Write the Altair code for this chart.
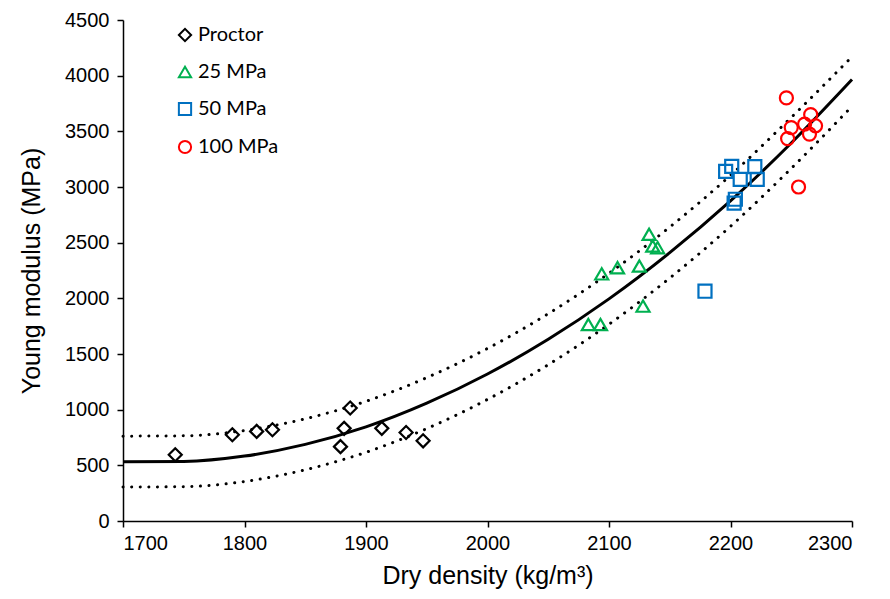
import altair as alt
import pandas as pd

# ---- data ----
proctor_x = [1743, 1790, 1810, 1823, 1887, 1882, 1879, 1913, 1933, 1947]
proctor_y = [595, 775, 805, 820, 1015, 832, 668, 832, 795, 720]
mpa25_x = [2083, 2093, 2094, 2107, 2125, 2128, 2133, 2136, 2140]
mpa25_y = [1765, 1765, 2220, 2275, 2290, 1930, 2575, 2470, 2455]
mpa50_x = [2179, 2196, 2201, 2203, 2204, 2208, 2220, 2222]
mpa50_y = [2064, 3140, 3185, 2855, 2890, 3069, 3183, 3069]
mpa100_x = [2246, 2247, 2250, 2256, 2261, 2265, 2266, 2270]
mpa100_y = [3800, 3435, 3534, 3000, 3565, 3475, 3650, 3550]

series_names = ["Proctor", "25 MPa", "50 MPa", "100 MPa"]
series_colors = ["#000000", "#00B050", "#0070C0", "#FF0000"]
series_shapes = ["diamond", "triangle-up", "square", "circle"]

curve_x = [1700, 1750, 1800, 1850, 1900, 1950, 2000, 2050, 2100, 2150, 2200, 2250, 2300]
fit_y = [532, 535, 583, 688, 845, 1058, 1320, 1632, 1995, 2410, 2875, 3395, 3965]
upper_y = [762, 765, 813, 918, 1075, 1288, 1550, 1862, 2225, 2640, 3105, 3625, 4170]
lower_y = [305, 308, 355, 460, 617, 830, 1092, 1404, 1767, 2182, 2647, 3167, 3725]

x_ticks = [1700, 1800, 1900, 2000, 2100, 2200, 2300]
y_ticks = [0, 500, 1000, 1500, 2000, 2500, 3000, 3500, 4000, 4500]

# ---- tables ----
rows = []
for name, xs, ys in zip(series_names,
                        [proctor_x, mpa25_x, mpa50_x, mpa100_x],
                        [proctor_y, mpa25_y, mpa50_y, mpa100_y]):
    for a, b in zip(xs, ys):
        rows.append({"density": a, "modulus": b, "series": name})
pts = pd.DataFrame(rows)

curves = pd.DataFrame({"density": curve_x, "fit": fit_y, "upper": upper_y, "lower": lower_y})

xscale = alt.Scale(domain=[1700, 2300], nice=False, zero=False)
yscale = alt.Scale(domain=[0, 4500], nice=False, zero=False)

AX_FONT = "Arial, Liberation Sans, sans-serif"

xaxis = alt.Axis(title="Dry density (kg/m³)", values=x_ticks, format="d",
                 labelFont=AX_FONT, titleFont=AX_FONT)
yaxis = alt.Axis(title="Young modulus (MPa)", values=y_ticks, format="d",
                 labelFont=AX_FONT, titleFont=AX_FONT)

base = alt.Chart(curves)

fit_line = base.mark_line(color="black", strokeWidth=3, interpolate="monotone").encode(
    x=alt.X("density:Q", scale=xscale, axis=xaxis),
    y=alt.Y("fit:Q", scale=yscale, axis=yaxis),
)
upper_line = base.mark_line(color="black", strokeWidth=3, strokeDash=[0.1, 8.5],
                            strokeCap="round", interpolate="monotone").encode(
    x=alt.X("density:Q", scale=xscale),
    y=alt.Y("upper:Q", scale=yscale),
)
lower_line = base.mark_line(color="black", strokeWidth=3, strokeDash=[0.1, 8.5],
                            strokeCap="round", interpolate="monotone").encode(
    x=alt.X("density:Q", scale=xscale),
    y=alt.Y("lower:Q", scale=yscale),
)

leg = alt.Legend(title=None, orient="none", legendX=52, legendY=5,
                 labelFont="Lato", labelFontSize=20, labelColor="black",
                 symbolSize=150, symbolStrokeWidth=2, rowPadding=16,
                 labelOffset=3)

points = alt.Chart(pts).mark_point(filled=False, strokeWidth=2.2, size=170, opacity=1).encode(
    x=alt.X("density:Q", scale=xscale),
    y=alt.Y("modulus:Q", scale=yscale),
    color=alt.Color("series:N", scale=alt.Scale(domain=series_names, range=series_colors),
                    legend=leg),
    shape=alt.Shape("series:N", scale=alt.Scale(domain=series_names, range=series_shapes),
                    legend=leg),
)

chart = alt.layer(fit_line, upper_line, lower_line, points).properties(
    width=729, height=501,
    autosize=alt.AutoSizeParams(type="none"),
    padding={"left": 115, "top": 12, "right": 30, "bottom": 70},
).configure_view(stroke=None).configure_axis(
    grid=False,
    domainColor="black", domainWidth=1.5,
    tickColor="black", tickWidth=1.5, tickSize=6,
    labelFontSize=20, labelColor="black", labelPadding=6,
    titleFontSize=25, titleFontWeight="normal", titleColor="black",
).configure_axisY(titlePadding=20, labelPadding=8).configure_axisX(titlePadding=10)

chart.save("out.html", embed_options={"renderer": "svg", "actions": False})
